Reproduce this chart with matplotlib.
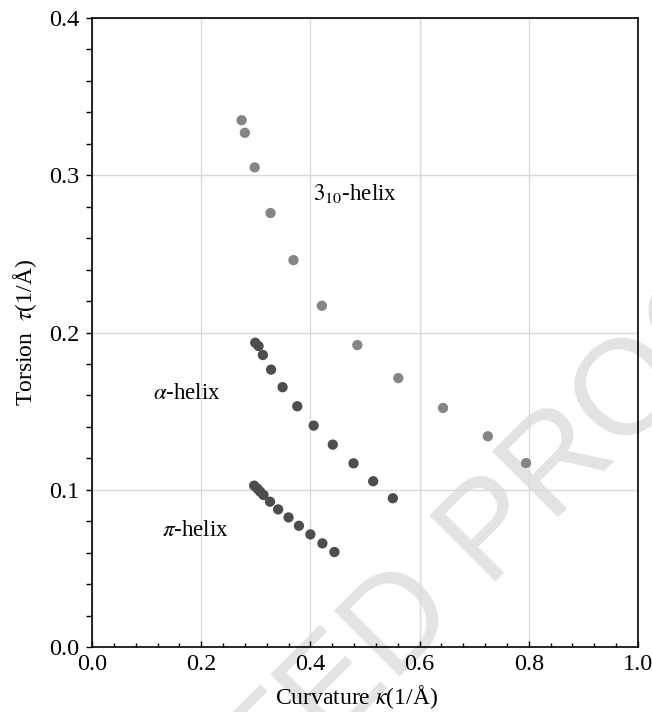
import numpy as np
import matplotlib
matplotlib.use('Agg')
import matplotlib.pyplot as plt
from matplotlib.ticker import MultipleLocator

plt.rcParams['font.family'] = ['Liberation Serif', 'DejaVu Serif']
plt.rcParams['mathtext.fontset'] = 'stix'

# Curvature / torsion of the helix families
kappa_310 = [0.274, 0.280, 0.298, 0.327, 0.369, 0.421, 0.486, 0.561, 0.643, 0.725, 0.795]
tau_310 = [0.335, 0.327, 0.305, 0.276, 0.246, 0.217, 0.192, 0.171, 0.152, 0.134, 0.117]

kappa_alpha = [0.299, 0.305, 0.313, 0.328, 0.349, 0.376, 0.406, 0.441, 0.479, 0.515, 0.551]
tau_alpha = [0.1935, 0.1914, 0.1857, 0.1764, 0.1652, 0.1531, 0.1408, 0.1287, 0.1168, 0.1054, 0.0946]

kappa_pi = [0.297, 0.303, 0.308, 0.314, 0.326, 0.341, 0.360, 0.379, 0.400, 0.422, 0.444]
tau_pi = [0.1026, 0.1007, 0.0988, 0.0967, 0.0924, 0.0875, 0.0824, 0.0771, 0.0716, 0.0659, 0.0604]

fig = plt.figure(figsize=(6.52, 7.12), dpi=100)
ax = fig.add_axes([0.1411, 0.0913, 0.8374, 0.8834])

# faint proof watermark behind everything
ax.text(0.382, -0.093, 'UNCORRECTED PROOF', transform=fig.transFigure,
        fontsize=97, color='#e3e3e3', rotation=45, rotation_mode='anchor',
        ha='center', va='center', family='Liberation Sans', zorder=0.4,
        clip_on=False)

ax.scatter(kappa_310, tau_310, s=55, color='#858585', edgecolors='none', zorder=3)
ax.scatter(kappa_alpha, tau_alpha, s=55, color='#4d4d4d', edgecolors='none', zorder=3)
ax.scatter(kappa_pi, tau_pi, s=55, color='#4d4d4d', edgecolors='none', zorder=3)

ax.text(0.404, 0.284, r'$3_{10}$-helix', fontsize=16.5)
ax.text(0.111, 0.1615, r'$\alpha$-helix', fontsize=16.5, va='center')
ax.text(0.128, 0.0744, r'$\pi$-helix', fontsize=16.5, va='center')

ax.set_xlim(0, 1.0)
ax.set_ylim(0, 0.4)
ax.xaxis.set_major_locator(MultipleLocator(0.2))
ax.xaxis.set_minor_locator(MultipleLocator(0.04))
ax.yaxis.set_major_locator(MultipleLocator(0.1))
ax.yaxis.set_minor_locator(MultipleLocator(0.02))
ax.xaxis.set_major_formatter(lambda v, p: f'{v:.1f}')
ax.yaxis.set_major_formatter(lambda v, p: f'{v:.1f}')

ax.set_axisbelow(True)
ax.grid(True, which='major', color='#d9d9d9', linewidth=1.0)

ax.tick_params(axis='x', which='major', direction='in', length=4.5, width=1, labelsize=17.5, pad=5)
ax.tick_params(axis='x', which='minor', direction='in', length=3, width=1)
ax.tick_params(axis='y', which='both', direction='out', length=4, width=1, labelsize=17.5, pad=5)
for s in ax.spines.values():
    s.set_linewidth(1.2)

ax.set_xlabel(r'Curvature $\kappa$(1/Å)', fontsize=17)
ax.xaxis.set_label_coords(0.485, -0.057)
ax.set_ylabel(r'Torsion  $\tau$(1/Å)', fontsize=17, labelpad=7)

fig.savefig('out.png', dpi=100)
